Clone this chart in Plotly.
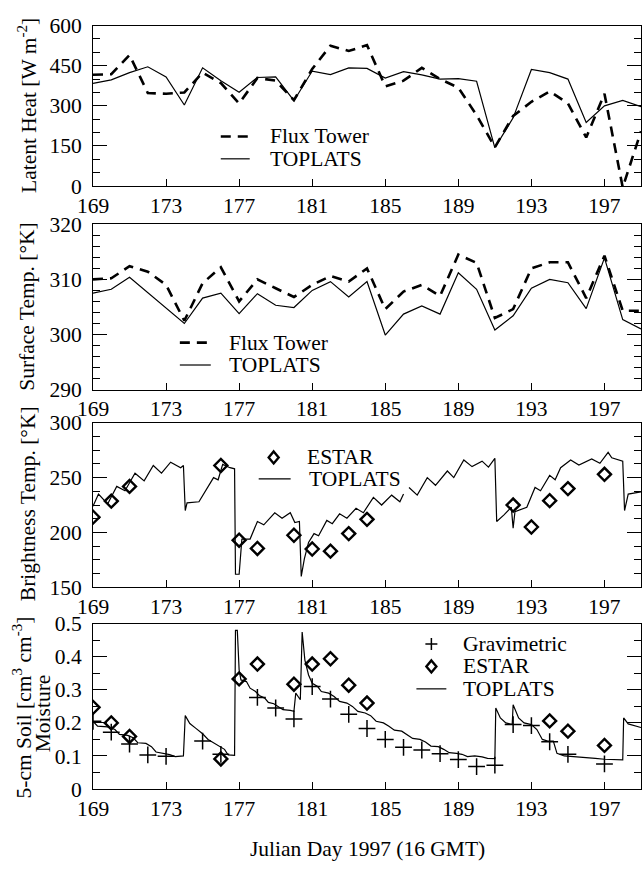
import plotly.graph_objects as go

# ---------------- data ----------------
days = list(range(169, 200))
lh_flux = [416, 418, 490, 348, 345, 350, 424, 385, 309, 404, 394, 321, 438, 525, 505, 527,
           373, 394, 442, 400, 368, 265, 145, 262, 315, 354, 309, 182, 345, -5, 205]
lh_toplats = [384, 397, 424, 446, 408, 303, 442, 394, 351, 406, 408, 319, 430, 417, 442, 440,
              404, 428, 416, 400, 402, 392, 143, 255, 436, 424, 400, 238, 300, 320, 297]

st_flux = [310, 310.2, 312.4, 311.4, 309, 302.5, 309.3, 312.2, 306, 310, 308.4, 306.8, 309,
           310.6, 309.6, 312, 304.6, 307.8, 309, 307, 314.5, 313, 303, 304.6, 312, 313.1,
           313.1, 306.6, 314.3, 304.3, 304.3]
st_toplats = [307.5, 308.2, 310.4, 307.6, 304.8, 302, 306.6, 307.5, 303.8, 307.4, 305.3, 304.9,
              308, 309.6, 306.8, 309.6, 299.9, 303.7, 305.2, 303.7, 311.2, 308.2, 300.8, 303.4,
              308.4, 310, 309.4, 304.7, 313.9, 302.7, 301]

tb_estar_days = [169, 170, 171, 176, 177, 178, 180, 181, 182, 183, 184, 192, 193, 194, 195, 197]
tb_estar = [214, 228.6, 242, 261, 193, 185.5, 197.5, 185, 183, 199, 212, 225, 205, 229, 240, 253]

tb_top_t = [169.0, 169.3, 169.8, 170.3, 170.75, 171.3, 171.8, 172.3, 172.75, 173.25, 173.8, 173.95,
            174.05, 174.15, 174.8, 175.35, 175.6, 175.85, 176.1, 176.5, 176.75, 176.8, 177.0,
            177.15, 177.6, 178.0, 178.35, 178.95, 179.35, 179.8, 180.05, 180.3, 180.4, 180.57,
            180.8, 181.1, 181.35, 181.8, 182.1, 182.5, 182.9, 183.4, 183.8, 184.35, 184.8,
            185.35, 185.8, 186.0, None, 186.3, 186.75, 187.3, 187.75, 188.4, 188.75, 189.3,
            189.75, 190.3, 190.65, 191.0, 191.1, 191.5, 191.9, 192.0, 192.1, 192.75, 193.2,
            193.5, 194.0, 194.3, 194.6, 195.15, 195.6, 196.3, 196.75, 197.2, 197.4, 198.0,
            198.1, 198.3, 198.7, 199.0]
tb_top_v = [224, 235, 226, 242, 238, 254, 247, 261, 254, 264, 259, 261,
            220, 227, 228, 243, 250, 248, 262, 259, 258, 162, 162,
            194, 194, 210, 207, 218, 213, 218, 209, 210, 160, 176,
            191, 199, 197, 211, 208, 217, 213, 222, 218, 232, 225,
            234, 228, 235, None, 241, 234, 250, 243, 256, 250, 266,
            260, 265, 259.5, 267.5, 210, 216, 223, 204, 219, 223, 241,
            238, 252, 248, 259, 266, 261.5, 267, 263, 273, 268, 265,
            220, 235, 236, 237]

sm_grav_days = [169, 170, 171, 172, 173, 175, 176, 178, 179, 180, 181, 182, 183, 184, 185, 186,
                187, 188, 189, 190, 191, 192, 193, 194, 195, 197]
sm_grav = [0.205, 0.172, 0.136, 0.103, 0.099, 0.145, 0.105, 0.277, 0.245, 0.212, 0.31, 0.272,
           0.226, 0.183, 0.15, 0.126, 0.118, 0.107, 0.089, 0.068, 0.072, 0.195, 0.192, 0.143,
           0.105, 0.076]
sm_estar_days = [169, 170, 171, 176, 177, 178, 180, 181, 182, 183, 184, 194, 195, 197]
sm_estar = [0.247, 0.2, 0.159, 0.091, 0.333, 0.378, 0.317, 0.378, 0.394, 0.314, 0.26, 0.206,
            0.175, 0.132]

sm_top_t = [169.0, 169.25, 169.8, 170.2, 170.45, 170.9, 171.2, 171.45, 171.9, 172.2, 172.45,
            172.9, 173.2, 173.5, 173.95, 174.05, 174.3, 174.6, 175.0, 175.3, 175.6, 175.9,
            176.2, 176.4, 176.75, 176.8, 176.9, 177.0, 177.1, 177.4, 177.6, 177.9, 178.1,
            178.4, 178.6, 178.9, 179.2, 179.4, 179.8, 180.0, 180.1, 180.35, 180.45, 180.6,
            180.8, 181.0, 181.3, 181.5, 181.9, 182.2, 182.5, 182.9, 183.2, 183.5, 183.9,
            184.2, 184.5, 184.9, 185.2, 185.5, 185.9, 186.2, 186.5, 186.9, 187.2, 187.5,
            187.9, 188.2, 188.5, 188.9, 189.2, 189.5, 189.9, 190.3, 190.6, 191.0, 191.05,
            191.3, 191.6, 191.95, 192.0, 192.3, 192.6, 193.0, 193.3, 193.6, 193.9, 194.2,
            194.4, 194.8, 195.5, 196.0, 196.5, 197.0, 197.5, 198.0, 198.05, 198.3, 199.0]
sm_top_v = [0.205, 0.19, 0.188, 0.18, 0.165, 0.162, 0.155, 0.14, 0.138, 0.128, 0.112,
            0.108, 0.104, 0.098, 0.1, 0.222, 0.198, 0.185, 0.167, 0.15, 0.14, 0.13,
            0.12, 0.103, 0.102, 0.48, 0.48, 0.36, 0.33, 0.325, 0.305, 0.295, 0.283,
            0.275, 0.262, 0.258, 0.248, 0.24, 0.238, 0.235, 0.29, 0.27, 0.475, 0.39,
            0.345, 0.32, 0.31, 0.295, 0.29, 0.28, 0.265, 0.26, 0.25, 0.235, 0.23,
            0.222, 0.205, 0.2, 0.19, 0.178, 0.175, 0.165, 0.153, 0.15, 0.142, 0.13,
            0.128, 0.12, 0.11, 0.108, 0.105, 0.098, 0.1, 0.097, 0.093, 0.092, 0.245,
            0.215, 0.2, 0.195, 0.255, 0.215, 0.2, 0.195, 0.18, 0.15, 0.145, 0.145,
            0.108, 0.1, 0.098, 0.095, 0.093, 0.09, 0.088, 0.088, 0.215, 0.197, 0.186]

x_ticks = list(range(169, 198, 4))

# ---------------- figure ----------------
W, H = 642, 874
L = 93
FONT = "Liberation Serif, Times New Roman, serif"
FS = 21.5

def px_x(p):
    return (p - L) / (W - L)

def px_y(p):
    return 1 - p / H

DASH = "10px,7px"
DASH_W = 2.6
SOLID_W = 1.2
DIAMOND = dict(symbol="diamond-open", size=10, color="black", line=dict(width=2.4, color="black"))
CROSS = dict(symbol="cross-thin-open", size=12, color="black", line=dict(width=1.5, color="black"))

fig = go.Figure()

fig.add_trace(go.Scatter(x=days, y=lh_flux, mode="lines", name="Flux Tower",
                         line=dict(color="black", width=DASH_W, dash=DASH), xaxis="x", yaxis="y"))
fig.add_trace(go.Scatter(x=days, y=lh_toplats, mode="lines", name="TOPLATS",
                         line=dict(color="black", width=SOLID_W), xaxis="x", yaxis="y"))

fig.add_trace(go.Scatter(x=days, y=st_flux, mode="lines", name="Flux Tower",
                         line=dict(color="black", width=DASH_W, dash=DASH), xaxis="x2", yaxis="y2"))
fig.add_trace(go.Scatter(x=days, y=st_toplats, mode="lines", name="TOPLATS",
                         line=dict(color="black", width=SOLID_W), xaxis="x2", yaxis="y2"))

fig.add_trace(go.Scatter(x=tb_top_t, y=tb_top_v, mode="lines", name="TOPLATS",
                         line=dict(color="black", width=SOLID_W), connectgaps=False,
                         xaxis="x3", yaxis="y3"))
fig.add_trace(go.Scatter(x=tb_estar_days, y=tb_estar, mode="markers", name="ESTAR",
                         marker=DIAMOND, xaxis="x3", yaxis="y3"))

fig.add_trace(go.Scatter(x=sm_top_t, y=sm_top_v, mode="lines", name="TOPLATS",
                         line=dict(color="black", width=SOLID_W), xaxis="x4", yaxis="y4"))
fig.add_trace(go.Scatter(x=sm_grav_days, y=sm_grav, mode="markers", name="Gravimetric",
                         marker=CROSS, xaxis="x4", yaxis="y4"))
fig.add_trace(go.Scatter(x=sm_estar_days, y=sm_estar, mode="markers", name="ESTAR",
                         marker=DIAMOND, xaxis="x4", yaxis="y4"))

panels = [
    # (top px, bottom px, range, dtick, minor dtick)
    (15, 180, [0, 600], 150, 50),
    (219.3, 389.3, [290, 320], 10, 2),
    (423.3, 592.7, [150, 300], 50, 12.5),
    (630, 800, [0, 0.5], 0.1, 0.05),
]

layout = dict(
    width=W, height=H,
    margin=dict(l=L, r=0, t=0, b=0),
    paper_bgcolor="white", plot_bgcolor="white",
    font=dict(family=FONT, size=FS, color="black"),
    showlegend=False,
)

for i, (top, bot, rng, dt, mdt) in enumerate(panels):
    sfx = "" if i == 0 else str(i + 1)
    layout["xaxis" + sfx] = dict(
        domain=[0, 1], range=[169, 199], anchor="y" + sfx,
        tickmode="array", tickvals=x_ticks, ticks="inside", ticklen=7,
        tickcolor="black", showline=True, linecolor="black", linewidth=1,
        mirror=True, showgrid=False, zeroline=False,
        tickfont=dict(family=FONT, size=FS, color="black"),
    )
    layout["yaxis" + sfx] = dict(
        domain=[px_y(bot), px_y(top)], range=rng, anchor="x" + sfx,
        tick0=rng[0], dtick=dt, ticks="inside", ticklen=14, tickcolor="black",
        minor=dict(dtick=mdt, tick0=rng[0], ticks="inside", ticklen=7, tickcolor="black",
                   showgrid=False),
        showline=True, linecolor="black", linewidth=1, mirror="ticks",
        showgrid=False, zeroline=False, ticklabelstandoff=6,
        tickfont=dict(family=FONT, size=FS, color="black"),
    )

# ---------------- legends (drawn by hand) ----------------
# each item: (kind, label, sample x-left px, sample x-right px, text x px, y px)
legend_items = [
    ("dash", "Flux Tower", 221, 250, 268, 129),
    ("solid", "TOPLATS", 221, 250, 268, 152),
    ("dash", "Flux Tower", 180, 211, 227, 341),
    ("solid", "TOPLATS", 180, 211, 227, 364),
    ("diamond", "ESTAR", 274, 274, 305, 459),
    ("solid", "TOPLATS", 259, 291, 307, 481),
    ("cross", "Gravimetric", 432, 432, 462, 651),
    ("diamond", "ESTAR", 432, 432, 462, 674),
    ("solid", "TOPLATS", 417, 447, 462, 697),
]

shapes = []
annotations = []
for kind, label, xa, xb, xt, yy in legend_items:
    if kind in ("dash", "solid"):
        ln = dict(color="black", width=DASH_W if kind == "dash" else SOLID_W)
        if kind == "dash":
            ln["dash"] = DASH
        shapes.append(dict(type="line", xref="paper", yref="paper",
                           x0=px_x(xa), x1=px_x(xb), y0=px_y(yy), y1=px_y(yy), line=ln))
    elif kind == "diamond":
        shapes.append(dict(type="path", xref="paper", yref="paper",
                           xsizemode="pixel", ysizemode="pixel",
                           xanchor=px_x(xa), yanchor=px_y(yy),
                           path="M 0 6 L 5 0 L 0 -6 L -5 0 Z",
                           line=dict(color="black", width=2.4)))
    elif kind == "cross":
        shapes.append(dict(type="path", xref="paper", yref="paper",
                           xsizemode="pixel", ysizemode="pixel",
                           xanchor=px_x(xa), yanchor=px_y(yy),
                           path="M -6 0 L 6 0 M 0 -6 L 0 6",
                           line=dict(color="black", width=1.5)))
    annotations.append(dict(text=label, xref="paper", yref="paper",
                            x=px_x(xt), y=px_y(yy), xanchor="left", yanchor="middle",
                            showarrow=False, font=dict(family=FONT, size=FS, color="black")))

titles = [
    ("Latent Heat [W m<sup>-2</sup>]", 28, 97.5),
    ("Surface Temp. [°K]", 27, 304),
    ("Brightness Temp. [°K]", 28, 507),
    ("5-cm Soil [cm<sup>3</sup> cm<sup>-3</sup>]", 22, 716),
    ("Moisture", 43, 722),
]
for text, xx, yy in titles:
    annotations.append(dict(text=text, xref="paper", yref="paper",
                            x=px_x(xx), y=px_y(yy), xanchor="center", yanchor="middle",
                            textangle=-90, showarrow=False,
                            font=dict(family=FONT, size=FS, color="black")))
annotations.append(dict(text="Julian Day 1997 (16 GMT)", xref="paper", yref="paper",
                        x=px_x(368), y=px_y(862), xanchor="center", yanchor="middle",
                        showarrow=False, font=dict(family=FONT, size=FS, color="black")))

layout["shapes"] = shapes
layout["annotations"] = annotations

fig.update_layout(**layout)
fig.write_html("out.html")
